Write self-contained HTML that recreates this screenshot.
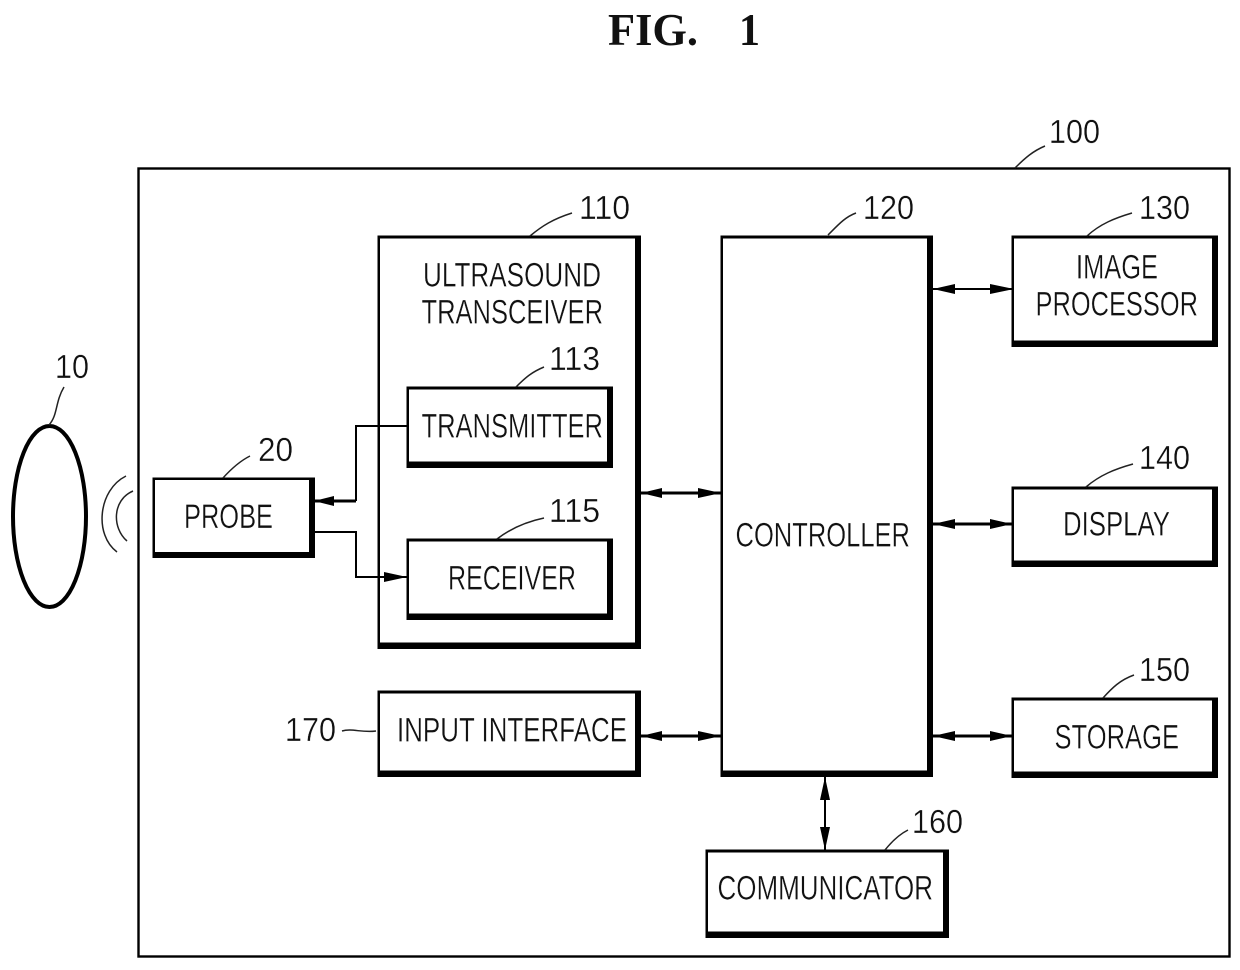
<!DOCTYPE html>
<html>
<head>
<meta charset="utf-8">
<style>
html,body{margin:0;padding:0;background:#fff;width:1240px;height:970px;overflow:hidden}
svg{display:block}
text{font-family:"Liberation Sans",sans-serif;fill:#111;font-size:34px;stroke:#fff;stroke-width:.35px;paint-order:normal}
.n{font-size:33px}
.f{font-family:"Liberation Serif",serif;font-weight:bold;font-size:46px;stroke:none}
.l{fill:none;stroke:#000;stroke-width:2}
.w{fill:none;stroke:#000;stroke-width:3}
.t{fill:none;stroke:#222;stroke-width:1.5}
</style>
</head>
<body>
<svg width="1240" height="970" viewBox="0 0 1240 970" xmlns="http://www.w3.org/2000/svg">
<rect width="1240" height="970" fill="#fff"/>
<text class="f" x="608" y="45" textLength="90" lengthAdjust="spacingAndGlyphs">FIG.</text>
<text class="f" x="739" y="45" textLength="21" lengthAdjust="spacingAndGlyphs">1</text>

<rect x="138.5" y="168.5" width="1091" height="788" fill="none" stroke="#000" stroke-width="2.4"/>

<!-- subject -->
<ellipse cx="49.5" cy="516.5" rx="36.5" ry="90.5" fill="#fff" stroke="#000" stroke-width="4"/>
<path class="t" d="M126 476C98 490 94 535 117 552"/>
<path class="t" d="M133 491C112 500 112 528 127 541"/>

<!-- boxes: black backing with inset white -->
<rect x="377.500" y="235.500" width="263.500" height="413.500" fill="#000"/><rect x="380" y="238.500" width="255" height="404" fill="#fff"/>
<rect x="406.500" y="386.500" width="206.500" height="81.500" fill="#000"/><rect x="409" y="389.500" width="198" height="72" fill="#fff"/>
<rect x="406.500" y="538.500" width="206.500" height="81.500" fill="#000"/><rect x="409" y="541.500" width="198" height="72" fill="#fff"/>
<rect x="152.500" y="477.500" width="162.500" height="80.500" fill="#000"/><rect x="155" y="480" width="154" height="72" fill="#fff"/>
<rect x="377.500" y="690.500" width="263.500" height="86.500" fill="#000"/><rect x="380" y="693.500" width="255" height="77" fill="#fff"/>
<rect x="720.500" y="235.500" width="212.500" height="541.500" fill="#000"/><rect x="723" y="238.500" width="204" height="532" fill="#fff"/>
<rect x="1011.500" y="235.500" width="206.500" height="111.500" fill="#000"/><rect x="1014" y="238.500" width="198" height="102" fill="#fff"/>
<rect x="1011.500" y="486.500" width="206.500" height="80.500" fill="#000"/><rect x="1014" y="489.500" width="198" height="71" fill="#fff"/>
<rect x="1011.500" y="697.500" width="206.500" height="80.500" fill="#000"/><rect x="1014" y="700.500" width="198" height="71" fill="#fff"/>
<rect x="705.500" y="849.500" width="243.500" height="88.500" fill="#000"/><rect x="708" y="852.500" width="235" height="79" fill="#fff"/>

<!-- connectors -->
<path class="l" d="M407 426H356V501"/>
<path class="w" d="M356 501H315"/>
<path fill="#000" d="M314 501L334 496V506Z"/>
<path class="l" d="M315 532H356V577H407"/>
<path fill="#000" d="M407 577L384 572V582Z"/>

<path class="w" d="M641 493H721"/>
<path fill="#000" d="M641 493L662 488V498ZM721 493L698 488V498Z"/>
<path class="w" d="M641 736H721"/>
<path fill="#000" d="M641 736L662 731V741ZM721 736L698 731V741Z"/>
<path class="l" d="M933 289H1012"/>
<path fill="#000" d="M933 289L955 284V294ZM1014 289L990 284V294Z"/>
<path class="w" d="M933 524H1012"/>
<path fill="#000" d="M933 524L955 519V529ZM1012 524L990 519V529Z"/>
<path class="w" d="M933 736H1012"/>
<path fill="#000" d="M933 736L955 731V741ZM1012 736L990 731V741Z"/>
<path class="l" d="M825 777V850"/>
<path fill="#000" d="M825 777L820 800H830ZM825 850L820 827H830Z"/>

<!-- leaders -->
<path class="t" d="M49 425C58 415 55 402 64 387"/>
<path class="t" d="M223 478C232 468 240 461 250 456"/>
<path class="t" d="M1015 168C1025 158 1033 151 1045 146"/>
<path class="t" d="M530 236C542 226 553 219 572 213"/>
<path class="t" d="M828 235C838 225 845 217 856 213"/>
<path class="t" d="M1087 236C1100 224 1115 218 1132 213"/>
<path class="t" d="M516 387C526 377 532 372 544 367"/>
<path class="t" d="M497 539C510 529 525 522 544 518"/>
<path class="t" d="M1086 487C1100 475 1115 469 1133 464"/>
<path class="t" d="M1103 698C1112 688 1120 680 1134 675"/>
<path class="t" d="M885 850C893 840 900 834 908 830"/>
<path class="t" d="M342 731C352 728 362 733 376 731"/>

<!-- labels -->
<text x="423" y="286.500" textLength="178" lengthAdjust="spacingAndGlyphs">ULTRASOUND</text>
<text x="421.500" y="323.500" textLength="181.500" lengthAdjust="spacingAndGlyphs">TRANSCEIVER</text>
<text x="421.500" y="437.500" textLength="181.500" lengthAdjust="spacingAndGlyphs">TRANSMITTER</text>
<text x="448" y="589.500" textLength="128" lengthAdjust="spacingAndGlyphs">RECEIVER</text>
<text x="184" y="528" textLength="89" lengthAdjust="spacingAndGlyphs">PROBE</text>
<text x="397" y="741.500" textLength="230" lengthAdjust="spacingAndGlyphs">INPUT INTERFACE</text>
<text x="735.500" y="546.500" textLength="174.500" lengthAdjust="spacingAndGlyphs">CONTROLLER</text>
<text x="1076" y="278.500" textLength="82" lengthAdjust="spacingAndGlyphs">IMAGE</text>
<text x="1035.500" y="315.500" textLength="162.500" lengthAdjust="spacingAndGlyphs">PROCESSOR</text>
<text x="1063" y="535.500" textLength="107" lengthAdjust="spacingAndGlyphs">DISPLAY</text>
<text x="1054.500" y="748.500" textLength="124.500" lengthAdjust="spacingAndGlyphs">STORAGE</text>
<text x="717.500" y="899.500" textLength="215.500" lengthAdjust="spacingAndGlyphs">COMMUNICATOR</text>

<text class="n" x="1049" y="143" textLength="51" lengthAdjust="spacingAndGlyphs">100</text>
<text class="n" x="579" y="219" textLength="51" lengthAdjust="spacingAndGlyphs">110</text>
<text class="n" x="863" y="219" textLength="51" lengthAdjust="spacingAndGlyphs">120</text>
<text class="n" x="1139" y="219" textLength="51" lengthAdjust="spacingAndGlyphs">130</text>
<text class="n" x="549" y="370" textLength="51" lengthAdjust="spacingAndGlyphs">113</text>
<text class="n" x="549" y="522" textLength="51" lengthAdjust="spacingAndGlyphs">115</text>
<text class="n" x="55" y="378" textLength="34" lengthAdjust="spacingAndGlyphs">10</text>
<text class="n" x="258" y="461" textLength="35" lengthAdjust="spacingAndGlyphs">20</text>
<text class="n" x="1139" y="469" textLength="51" lengthAdjust="spacingAndGlyphs">140</text>
<text class="n" x="1139" y="681" textLength="51" lengthAdjust="spacingAndGlyphs">150</text>
<text class="n" x="912" y="833" textLength="51" lengthAdjust="spacingAndGlyphs">160</text>
<text class="n" x="285" y="741" textLength="51" lengthAdjust="spacingAndGlyphs">170</text>
</svg>
</body>
</html>
